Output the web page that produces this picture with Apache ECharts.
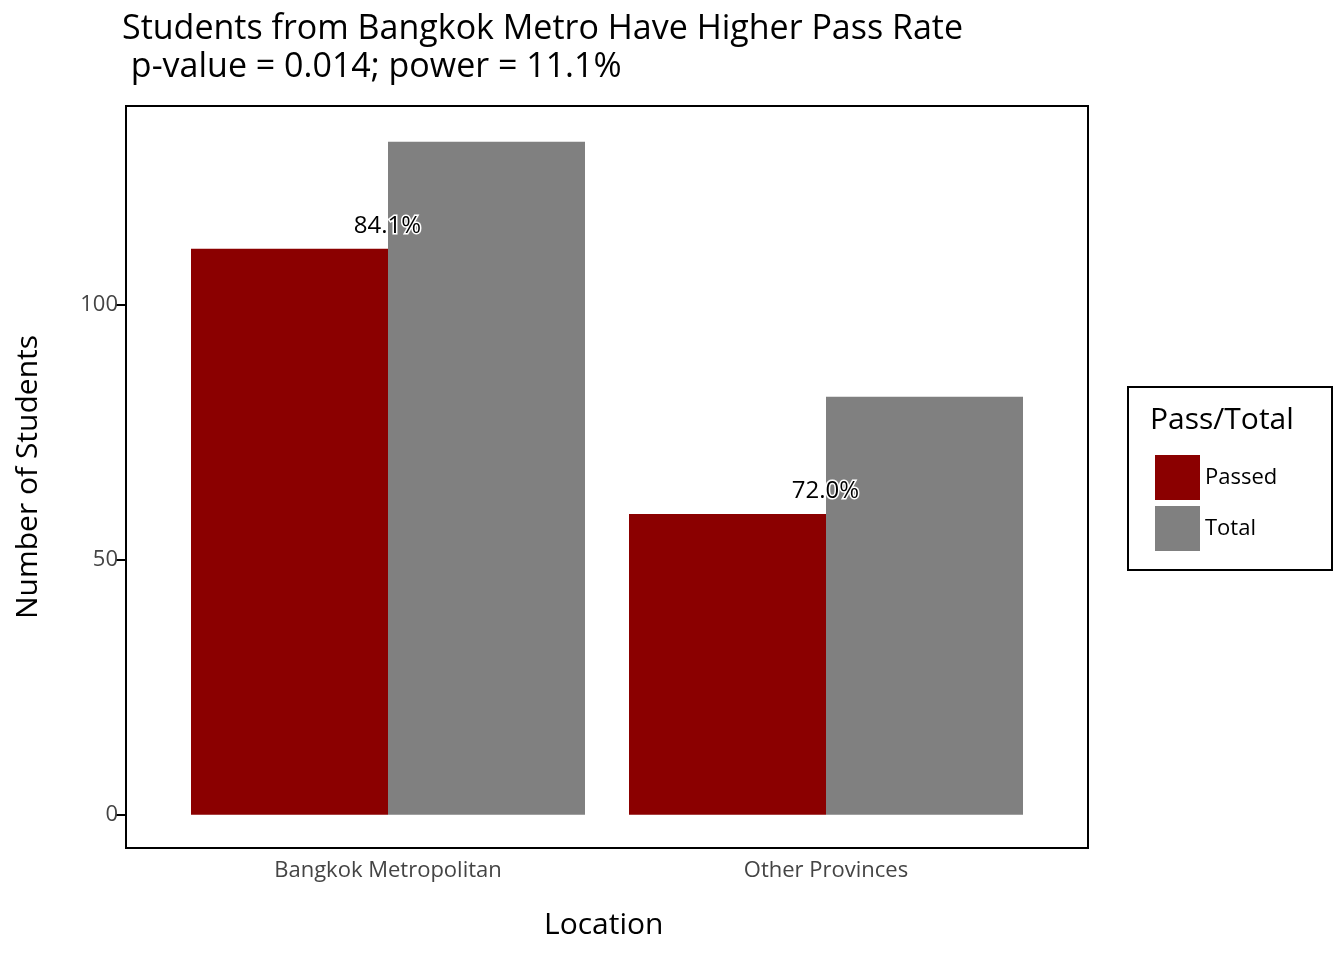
<!DOCTYPE html>
<html>
<head>
<meta charset="utf-8">
<script src="https://cdn.jsdelivr.net/npm/echarts@6/dist/echarts.min.js"></script>
<style>html,body{margin:0;background:#fff}#chart{width:1344px;height:960px}</style>
</head>
<body>
<div id="chart"></div>
<script>
const categories = ['Bangkok Metropolitan', 'Other Provinces'];
const passed = [111, 59];
const totals = [132, 82];
const yTicks = [0, 50, 100];

const font = '"Comic Sans MS", "Open Sans", sans-serif';
const chart = echarts.init(document.getElementById('chart'));

chart.setOption({
    animation: false,
    grid: { left: 169, right: 299, top: 106, bottom: 112 },
    xAxis: {
        type: 'category',
        data: categories,
        axisLine: { show: false },
        axisTick: { alignWithLabel: true, length: 8, lineStyle: { color: '#000', width: 2 } },
        axisLabel: { color: '#444', fontSize: 22, fontFamily: font, margin: 12 }
    },
    yAxis: {
        type: 'value',
        min: -6.5,
        max: 139,
        offset: 43,
        splitLine: { show: false },
        axisLine: { show: false },
        axisTick: { show: true, length: 10, customValues: yTicks, lineStyle: { color: '#000', width: 2 } },
        axisLabel: { color: '#444', fontSize: 22, fontFamily: font, customValues: yTicks, margin: 8 }
    },
    legend: {
        orient: 'vertical',
        left: 1150,
        top: 450,
        itemWidth: 45,
        itemHeight: 45,
        itemGap: 6,
        icon: 'rect',
        textStyle: { fontSize: 22, fontFamily: font, color: '#000' },
        data: ['Passed', 'Total']
    },
    series: [
        {
            name: 'Passed',
            type: 'bar',
            data: passed,
            barWidth: 197,
            barGap: '0%',
            itemStyle: { color: '#8b0000' },
            label: {
                show: true,
                position: 'top',
                offset: [98, -6],
                fontSize: 24,
                fontFamily: font,
                color: '#000',
                textBorderColor: '#fff',
                textBorderWidth: 3,
                formatter: p => (passed[p.dataIndex] / totals[p.dataIndex] * 100).toFixed(1) + '%'
            }
        },
        {
            name: 'Total',
            type: 'bar',
            data: totals,
            barWidth: 197,
            itemStyle: { color: '#808080' }
        }
    ],
    graphic: [
        { type: 'rect', shape: { x: 126, y: 106, width: 962, height: 742 }, style: { fill: 'none', stroke: '#000', lineWidth: 2 }, z: 10 },
        { type: 'rect', shape: { x: 1128, y: 387, width: 204, height: 183 }, style: { fill: 'none', stroke: '#000', lineWidth: 2 } },
        { type: 'text', left: 1150, top: 405, style: { text: 'Pass/Total', fontSize: 30, fontFamily: font, fill: '#000' } },
        { type: 'text', left: 122, top: 10, style: { text: 'Students from Bangkok Metro Have Higher Pass Rate\n p-value = 0.014; power = 11.1%', fontSize: 34, lineHeight: 38, fontFamily: font, fill: '#000' } },
        { type: 'text', left: 544, top: 910, style: { text: 'Location', fontSize: 30, fontFamily: font, fill: '#000' } },
        { type: 'text', x: 28, y: 477, rotation: Math.PI / 2, style: { text: 'Number of Students', fontSize: 30, fontFamily: font, fill: '#000', align: 'center', verticalAlign: 'middle' } }
    ]
});
</script>
</body>
</html>
